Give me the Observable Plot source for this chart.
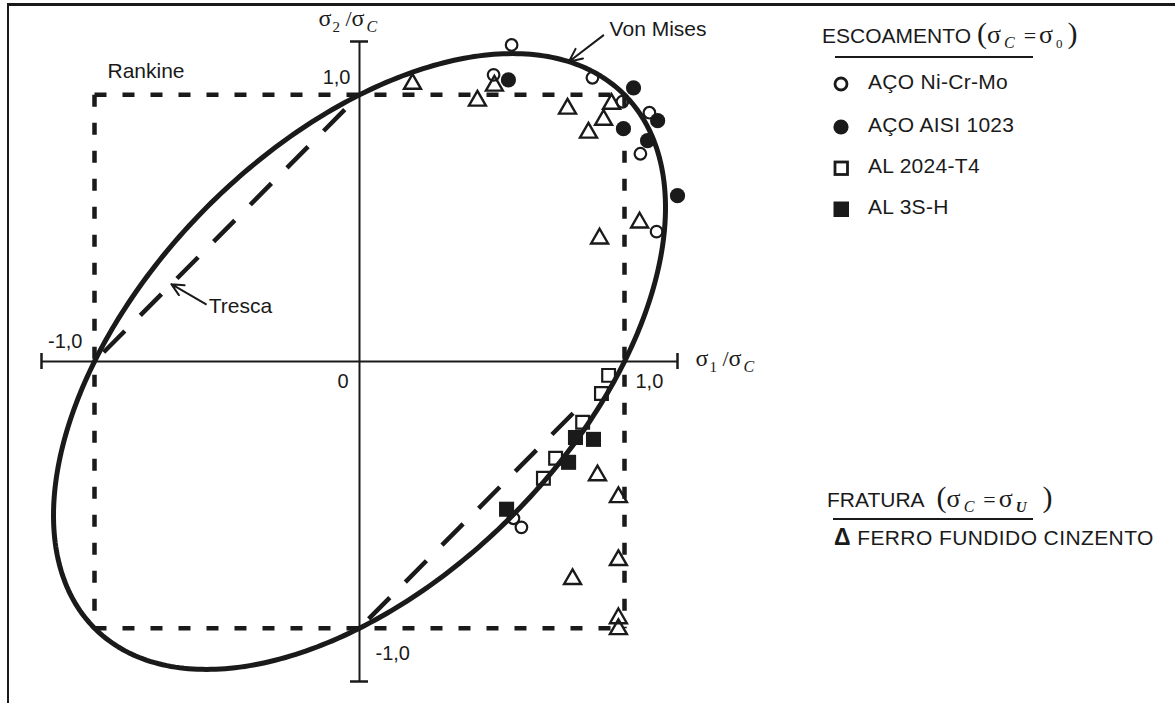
<!DOCTYPE html>
<html>
<head>
<meta charset="utf-8">
<script src="https://cdn.jsdelivr.net/npm/d3@7"></script>
<script src="https://cdn.jsdelivr.net/npm/@observablehq/plot@0.6"></script>
<style>
  body { margin: 0; background: #fff; }
  #chart { position: relative; width: 1175px; height: 703px; overflow: hidden; background: #fff; }
  #frame { position: absolute; left: 7px; top: 3px; right: -10px; bottom: -10px;
           border-left: 2px solid #1a1a1a; border-top: 3px solid #1a1a1a; pointer-events: none; }
  #chart svg { position: absolute; left: 0; top: 0; }
</style>
</head>
<body>
<div id="chart"><div id="frame"></div></div>
<script>
// Normalised principal stresses (σ1/σC, σ2/σC) of the test specimens
const acoNiCrMo = [[0.574, 1.187], [0.506, 1.075], [0.879, 1.064], [0.992, 0.974], [1.094, 0.933],
                   [1.060, 0.779], [1.121, 0.487], [0.581, -0.588], [0.611, -0.622]];
const acoAisi1023 = [[0.562, 1.056], [1.034, 1.026], [0.996, 0.873], [1.125, 0.903], [1.087, 0.828], [1.200, 0.622]];
const al2024T4 = [[0.940, -0.052], [0.913, -0.120], [0.842, -0.228], [0.740, -0.363], [0.694, -0.438]];
const al3SH = [[0.815, -0.285], [0.883, -0.292], [0.789, -0.378], [0.555, -0.554]];
const ferroFundidoCinzento = [[0.200, 1.041], [0.509, 1.034], [0.445, 0.978], [0.785, 0.948], [0.951, 0.966],
                              [0.921, 0.906], [0.864, 0.858], [1.057, 0.521], [0.906, 0.461], [0.898, -0.427],
                              [0.977, -0.509], [0.977, -0.745], [0.804, -0.816], [0.977, -0.963], [0.977, -1.004]];

// Legend names
const yieldNames = ["AÇO Ni-Cr-Mo", "AÇO AISI 1023", "AL 2024-T4", "AL 3S-H"];
const fractureName = "FERRO FUNDIDO CINZENTO";

// Criteria: Rankine square, Tresca sides, von Mises ellipse σ1² − σ1σ2 + σ2² = 1
const rankineEdges = [[[-1, 1], [1, 1]], [[-1, 1], [-1, -1]], [[-1, -1], [1, -1]], [[1, 1], [1, -1]]];
const trescaEdges = [[[0, -1], [0.82, -0.18]], [[-1, 0], [0, 1]]];
const vonMises = d3.range(0, 361).map(a => {
  const t = a * Math.PI / 180;
  return [Math.cos(t) - Math.sin(t) / Math.sqrt(3), Math.cos(t) + Math.sin(t) / Math.sqrt(3)];
});
// upper branch of the ellipse for a given σ1
const vonMisesUpper = s1 => (s1 + Math.sqrt(4 - 3 * s1 * s1)) / 2;

// Axis extent and tick labels
const axisMax = 1.2;
const xTickLabels = ["-1,0", "0", "1,0"];
const yTickLabels = ["1,0", "-1,0"];
const xTitle = "σ1/σC", yTitle = "σ2/σC";

const ink = "#1a1a1a";
const sans = "Liberation Sans, Arial, Helvetica, sans-serif";
const serif = "Liberation Serif, Times New Roman, serif";

const pts = (data, opts) => Plot.dot(data, {x: d => d[0], y: d => d[1], ...opts});
const edges = (data, opts) => Plot.link(data, {x1: d => d[0][0], y1: d => d[0][1], x2: d => d[1][0], y2: d => d[1][1], ...opts});
const capX = 8 / 266.7, capY = 9 / 265;
const label = {fontFamily: sans, fill: ink, lineAnchor: "bottom"};

const chart = Plot.plot({
  width: 1175,
  height: 703,
  marginLeft: 41, marginRight: 498, marginTop: 41, marginBottom: 22,
  x: {domain: [-axisMax, axisMax], axis: null},
  y: {domain: [-axisMax, axisMax], axis: null},
  style: {background: "transparent", overflow: "visible", color: ink},
  marks: [
    // axes with end caps
    Plot.ruleY([0], {x1: -axisMax, x2: axisMax, stroke: ink, strokeWidth: 2}),
    Plot.ruleX([0], {y1: -axisMax, y2: axisMax, stroke: ink, strokeWidth: 2}),
    Plot.ruleX([-axisMax, axisMax], {y1: -capX, y2: capX, stroke: ink, strokeWidth: 2.5}),
    Plot.ruleY([-axisMax, axisMax], {x1: -capY, x2: capY, stroke: ink, strokeWidth: 2.5}),
    // Rankine and Tresca
    edges(rankineEdges, {stroke: ink, strokeWidth: 4.5, strokeDasharray: "12,16", strokeLinecap: "butt"}),
    edges(trescaEdges, {stroke: ink, strokeWidth: 4.5, strokeDasharray: "30,22", strokeDashoffset: 39, strokeLinecap: "butt"}),
    // von Mises
    Plot.line(vonMises, {x: d => d[0], y: d => d[1], stroke: ink, strokeWidth: 5, curve: "linear"}),
    // specimens
    pts(ferroFundidoCinzento, {symbol: "triangle", r: 6.3, stroke: ink, strokeWidth: 2.4, fill: "none"}),
    pts(acoNiCrMo, {symbol: "circle", r: 5.8, stroke: ink, strokeWidth: 2.2, fill: "none"}),
    pts(acoAisi1023, {symbol: "circle", r: 7.6, fill: ink, stroke: "none"}),
    pts(al2024T4, {symbol: "square", r: 7.2, stroke: ink, strokeWidth: 2.2, fill: "none"}),
    pts(al3SH, {symbol: "square", r: 8.5, fill: ink, stroke: "none"}),
    // tick labels
    Plot.text([xTickLabels[0]], {x: () => -1, y: () => 0, text: d => d, textAnchor: "end", dx: -12, dy: -14, fontSize: 20, ...label}),
    Plot.text([xTickLabels[1]], {x: () => 0, y: () => 0, text: d => d, textAnchor: "end", dx: -11, dy: 26, fontSize: 20, ...label}),
    Plot.text([xTickLabels[2]], {x: () => 1, y: () => 0, text: d => d, textAnchor: "start", dx: 11, dy: 26, fontSize: 20, ...label}),
    Plot.text([yTickLabels[0]], {x: () => 0, y: () => 1, text: d => d, textAnchor: "end", dx: -9, dy: -11, fontSize: 20, ...label}),
    Plot.text([yTickLabels[1]], {x: () => 0, y: () => -1, text: d => d, textAnchor: "start", dx: 16, dy: 32, fontSize: 20, ...label}),
    // axis titles (rebuilt with sub-scripts below)
    Plot.text([xTitle], {x: () => axisMax, y: () => 0, text: d => d, textAnchor: "start", dx: 18, dy: 4, fontSize: 24, ...label, fontFamily: serif}),
    Plot.text([yTitle], {x: () => 0, y: () => axisMax, text: d => d, textAnchor: "start", dx: -41, dy: -16, fontSize: 24, ...label, fontFamily: serif}),
    // criterion labels
    Plot.text(["Rankine"], {x: () => -1, y: () => 1, text: d => d, textAnchor: "start", dx: 13, dy: -17, fontSize: 21, ...label}),
    Plot.text(["Von Mises"], {x: () => 0.94, y: () => 1.22, text: d => d, textAnchor: "start", dx: 1, dy: 0, fontSize: 21, ...label}),
    Plot.arrow([0.79], {x1: () => 0.92, y1: () => 1.223, x2: d => d, y2: d => vonMisesUpper(d), stroke: ink, strokeWidth: 2, headLength: 11, headAngle: 50}),
    Plot.text(["Tresca"], {x: () => -0.58, y: () => 0.22, text: d => d, textAnchor: "start", dx: 3, dy: 10, fontSize: 21, ...label}),
    Plot.arrow([-0.71], {x1: () => -0.58, y1: () => 0.215, x2: d => d, y2: d => 1 + d, stroke: ink, strokeWidth: 2, headLength: 12, headAngle: 50})
  ]
});

// Rich text: sub-scripts and italic symbols
function richText(sel, parts) {
  sel.text(null);
  let shift = 0;
  for (const p of parts) {
    const ts = sel.append("tspan").text(p.t);
    ts.attr("font-family", p.family || serif).attr("font-size", p.size);
    if (p.italic) ts.attr("font-style", "italic");
    if (p.bold) ts.attr("font-weight", "bold");
    const target = p.sub || 0;
    if (target !== shift) { ts.attr("dy", target - shift); shift = target; }
    if (p.dx) ts.attr("dx", p.dx);
  }
}
const ratio = idx => [
  {t: "σ", size: 24},
  {t: idx, size: 15, sub: 6, dx: 1},
  {t: " /", size: 22, sub: 0},
  {t: "σ", size: 24},
  {t: "C", size: 16, italic: true, sub: 6, dx: 2}
];
d3.select(chart).selectAll("text").each(function() {
  const s = d3.select(this);
  if (this.textContent === xTitle) richText(s, ratio("1"));
  else if (this.textContent === yTitle) richText(s, ratio("2"));
});

// Legend
const legend = d3.create("svg").attr("width", 1175).attr("height", 703)
  .style("position", "absolute").style("left", 0).style("top", 0).style("pointer-events", "none");

function legendHeader(x, y, word, rhs, rhsStyle) {
  const t = legend.append("text").attr("x", x).attr("y", y).attr("fill", ink);
  richText(t, [
    {t: word, family: sans, size: 21},
    {t: "(", size: 30, dx: rhsStyle.lead},
    {t: "σ", size: 26},
    {t: "C", size: 16, italic: true, sub: 5, dx: 3},
    {t: "=", size: 22, sub: 0, dx: 9},
    {t: "σ", size: 26, dx: 3},
    {t: rhs, size: rhsStyle.size, italic: rhsStyle.italic, bold: rhsStyle.bold, sub: 5, dx: 3},
    {t: ")", size: 30, sub: 0, dx: rhsStyle.gap}
  ]);
}
legendHeader(822, 43, "ESCOAMENTO", "0", {size: 13, gap: 5, lead: 6});
legend.append("line").attr("x1", 835).attr("x2", 1033).attr("y1", 57).attr("y2", 57).attr("stroke", ink).attr("stroke-width", 2.2);

const rowY = [84, 127, 168, 209];
const g = legend.append("g");
g.append("circle").attr("cx", 841).attr("cy", rowY[0]).attr("r", 6).attr("fill", "none").attr("stroke", ink).attr("stroke-width", 2.8);
g.append("circle").attr("cx", 841).attr("cy", rowY[1]).attr("r", 7.6).attr("fill", ink);
g.append("rect").attr("x", 835).attr("y", rowY[2] - 6).attr("width", 12.5).attr("height", 12.5).attr("fill", "none").attr("stroke", ink).attr("stroke-width", 2.8);
g.append("rect").attr("x", 833.5).attr("y", rowY[3] - 7.5).attr("width", 15.5).attr("height", 15.5).attr("fill", ink);
yieldNames.forEach((name, i) => {
  legend.append("text").attr("x", 868).attr("y", rowY[i] + 5).attr("font-family", sans).attr("font-size", 21)
    .attr("letter-spacing", 0.3).attr("fill", ink).text(name);
});

legendHeader(827, 507, "FRATURA", "U", {size: 15, italic: true, bold: true, gap: 16, lead: 12});
legend.append("line").attr("x1", 833).attr("x2", 1033).attr("y1", 519).attr("y2", 519).attr("stroke", ink).attr("stroke-width", 2.2);
const fr = legend.append("text").attr("x", 834).attr("y", 545).attr("fill", ink);
richText(fr, [
  {t: "Δ", family: sans, size: 23, bold: true},
  {t: " " + fractureName, family: sans, size: 21}
]);
fr.attr("letter-spacing", 0.4);

const host = document.getElementById("chart");
host.appendChild(chart);
host.appendChild(legend.node());
</script>
</body>
</html>
